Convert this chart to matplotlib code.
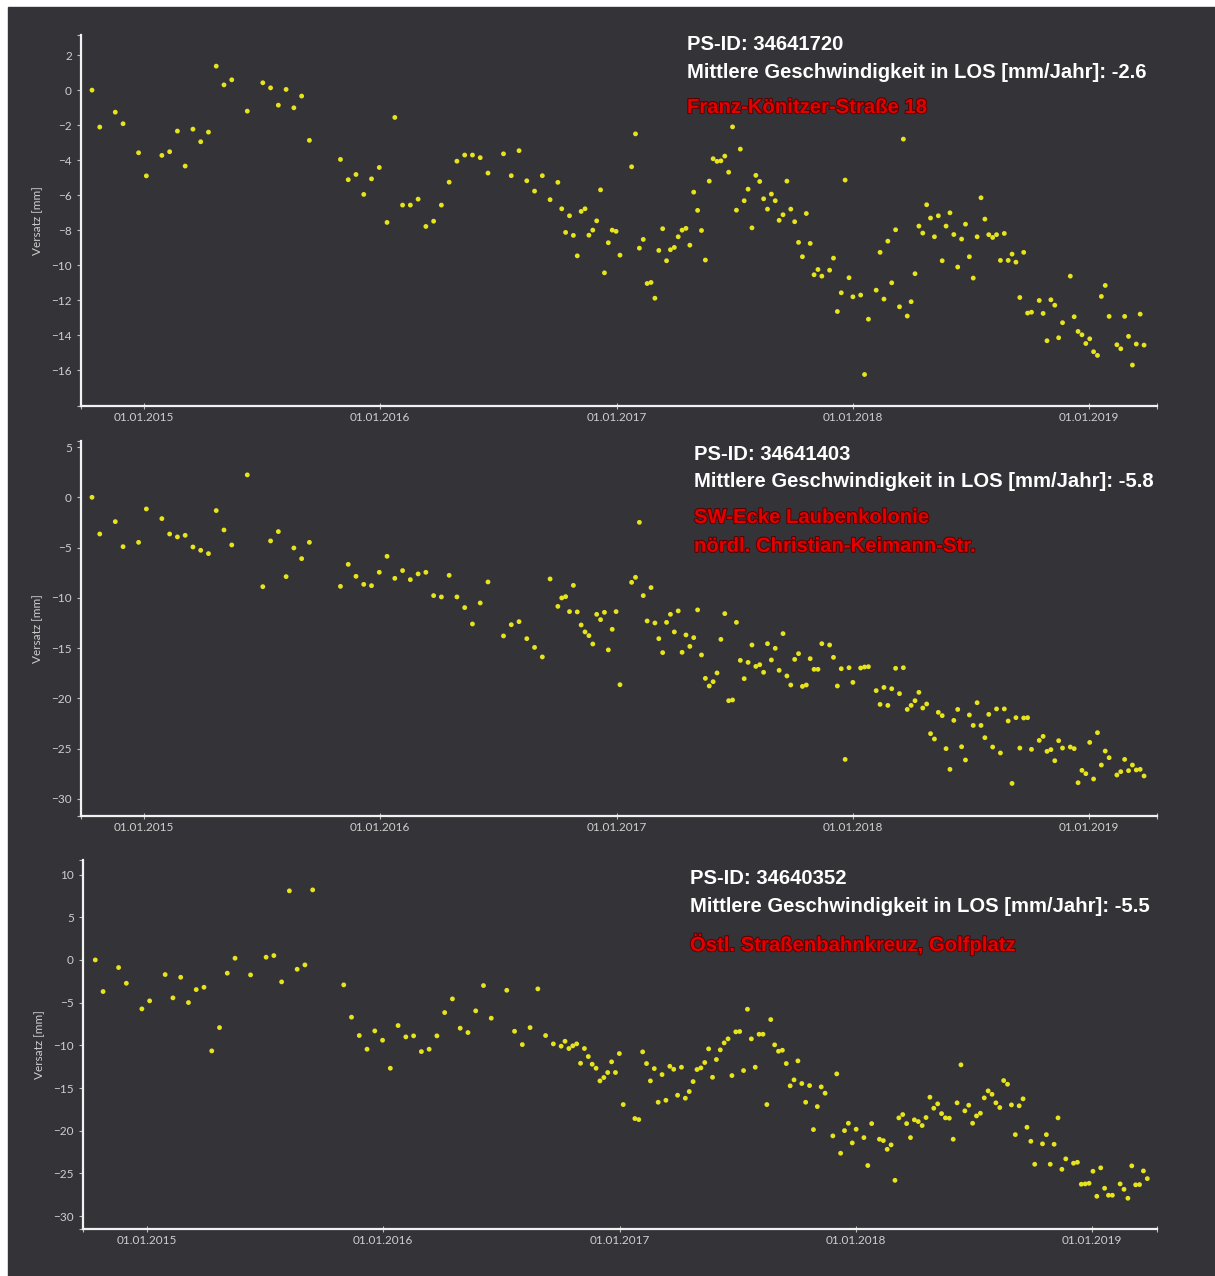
import matplotlib.pyplot as plt
import matplotlib.patheffects as pe
import pandas as pd

# acquisition dates, days after 01.01.2015 (same for all three PS points)
days = [-80, -68, -44, -32, -8, 4, 28, 40, 52, 64, 76, 88, 100, 112, 124, 136,
        160, 184, 196, 208, 220, 232, 244, 256,
        304, 316, 328, 340, 352, 364, 376, 388, 400, 412, 424, 436, 448, 460,
        472, 484, 496, 508, 520, 532,
        556, 568, 580, 592, 604, 616, 628, 640,
        646, 652, 658, 664, 670, 676, 682, 688, 694, 700, 706, 712, 718, 724,
        730, 736,
        754, 760, 766, 772, 778, 784, 790, 796, 802, 808, 814, 820, 826, 832,
        838, 844, 850, 856, 862, 868, 874, 880, 886, 892, 898, 904, 910, 916,
        922, 928, 934, 940, 946, 952, 958, 964, 970, 976, 982, 988, 994, 1000,
        1006, 1012, 1018, 1024, 1030, 1036, 1042, 1048,
        1060, 1066, 1072, 1078, 1084, 1090, 1096,
        1108, 1114, 1120,
        1132, 1138, 1144, 1150, 1156, 1162, 1168, 1174, 1180, 1186, 1192, 1198,
        1204, 1210, 1216, 1222, 1228, 1234, 1240, 1246, 1252, 1258, 1264, 1270,
        1276, 1282, 1288, 1294, 1300, 1306, 1312, 1318, 1324, 1330, 1336, 1342,
        1348, 1354, 1360, 1366, 1372,
        1384, 1390, 1396, 1402, 1408, 1414, 1420,
        1432, 1438, 1444, 1450, 1456, 1462, 1468, 1474, 1480, 1486, 1492,
        1504, 1510, 1516, 1522, 1528, 1534, 1540, 1546]

# Versatz [mm] per PS point
versatz_34641720 = [
    0.0, -2.11, -1.26, -1.92, -3.58, -4.90, -3.73, -3.52, -2.34, -4.34, -2.23, -2.95,
    -2.40, 1.37, 0.30, 0.59, -1.20, 0.42, 0.13, -0.86, 0.04, -1.01, -0.34, -2.87,
    -3.96, -5.12, -4.82, -5.96, -5.07, -4.42, -7.56, -1.56, -6.57, -6.57, -6.23, -7.79,
    -7.49, -6.57, -5.26, -4.06, -3.71, -3.71, -3.86, -4.74,
    -3.64, -4.89, -3.46, -5.18, -5.77, -4.89, -6.26, -5.27,
    -6.78, -8.13, -7.18, -8.30, -9.47, -6.93, -6.78, -8.29, -8.00, -7.47, -5.70, -10.44,
    -8.72, -8.00, -8.07, -9.43,
    -4.38, -2.50, -9.03, -8.53, -11.05, -10.99, -11.89, -9.16, -7.92, -9.75,
    -9.12, -8.99, -8.38, -8.00, -7.90, -8.86, -5.83, -6.87, -8.02, -9.71,
    -5.20, -3.92, -4.07, -4.04, -3.77, -4.69, -2.10, -6.86, -3.37, -6.32,
    -5.66, -7.87, -4.87, -5.22, -6.21, -6.80, -5.94, -6.32, -7.44, -7.12,
    -5.20, -6.80, -7.52, -8.70, -9.52, -7.05, -8.76, -10.55, -10.25, -10.63,
    -10.29, -9.60, -12.65, -11.58, -5.14, -10.72, -11.81,
    -11.71, -16.25, -13.09,
    -11.43, -9.27, -11.94, -8.63, -11.01, -7.98, -12.38, -2.80, -12.91, -12.09,
    -10.49, -7.77, -8.17, -6.55, -7.31, -8.38, -7.18, -9.75, -7.77, -7.01,
    -8.25, -10.11, -8.51, -7.66, -9.52, -10.74, -8.38, -6.15, -7.37, -8.26,
    -8.42, -8.26, -9.73, -8.19, -9.73, -9.37, -9.83, -11.85, -9.27, -12.74, -12.69,
    -12.02, -12.76, -14.32, -11.98, -12.29, -14.15, -13.29,
    -10.63, -12.95, -13.79, -13.98, -14.48, -14.21, -14.95, -15.16, -11.79, -11.16, -12.93,
    -14.55, -14.78, -12.93, -14.07, -15.71, -14.51, -12.80, -14.57]

versatz_34641403 = [
    0.0, -3.65, -2.42, -4.91, -4.48, -1.16, -2.12, -3.65, -3.94, -3.78, -4.94, -5.27,
    -5.60, -1.32, -3.25, -4.74, 2.23, -8.89, -4.34, -3.41, -7.89, -5.04, -6.10, -4.48,
    -8.86, -6.67, -7.86, -8.66, -8.79, -7.46, -5.87, -8.06, -7.29, -8.19, -7.62, -7.46,
    -9.78, -9.91, -7.76, -9.91, -10.97, -12.60, -10.51, -8.42,
    -13.79, -12.67, -12.37, -14.06, -14.93, -15.88, -8.12, -10.85,
    -10.01, -9.88, -11.37, -8.76, -11.40, -12.70, -13.39, -13.76, -14.59, -11.64,
    -12.17, -11.44, -15.18, -13.13, -11.37, -18.64,
    -8.46, -7.96, -2.49, -9.78, -12.30, -8.98, -12.50, -14.06, -15.45, -12.44,
    -11.64, -13.39, -11.30, -15.42, -13.69, -14.83, -13.96, -11.20, -15.68, -18.01,
    -18.77, -18.34, -17.47, -14.13, -11.57, -20.23, -20.16, -12.44, -16.22, -18.04,
    -16.42, -14.69, -16.82, -16.65, -17.41, -14.56, -16.18, -15.02, -17.21, -13.56,
    -17.77, -18.67, -16.12, -15.55, -18.81, -18.67, -16.05, -17.11, -17.11, -14.56,
    -14.69, -15.92, -18.77, -17.05, -26.07, -16.95, -18.41,
    -16.98, -16.88, -16.85,
    -19.23, -20.60, -18.91, -20.70, -19.04, -17.01, -19.53, -16.95, -21.10, -20.70,
    -20.23, -19.40, -20.96, -20.56, -23.51, -24.04, -21.39, -21.72, -25.00, -27.06,
    -22.19, -21.10, -24.81, -26.13, -21.65, -22.69, -20.43, -22.69, -23.91, -21.59,
    -24.84, -21.05, -25.43, -21.05, -22.25, -28.46, -21.92, -24.94, -21.95, -21.92, -25.07,
    -24.18, -23.78, -25.27, -25.10, -26.20, -24.21, -24.94,
    -24.84, -25.00, -28.39, -27.16, -27.49, -24.38, -28.02, -23.41, -26.63, -25.24, -25.90,
    -27.62, -27.29, -26.07, -27.19, -26.63, -27.12, -27.06, -27.72]

versatz_34640352 = [
    0.0, -3.70, -0.89, -2.73, -5.73, -4.79, -1.71, -4.44, -2.03, -4.99, -3.47, -3.20,
    -10.65, -7.92, -1.55, 0.20, -1.75, 0.32, 0.51, -2.57, 8.09, -1.09, -0.58, 8.20,
    -2.92, -6.70, -8.85, -10.45, -8.31, -9.40, -12.68, -7.68, -9.01, -8.89, -10.73, -10.45,
    -8.89, -6.16, -4.56, -7.99, -8.50, -5.96, -3.00, -6.82,
    -3.55, -8.35, -9.91, -7.92, -3.39, -8.85, -9.83, -10.10,
    -9.52, -10.37, -10.06, -9.83, -12.10, -10.37, -11.31, -12.21, -12.68, -14.16,
    -13.77, -13.18, -11.93, -13.18, -10.96, -16.93,
    -18.57, -18.69, -10.76, -12.13, -14.16, -12.72, -16.66, -13.42, -16.43, -12.45,
    -12.80, -15.84, -12.56, -16.19, -15.41, -14.24, -12.83, -12.64, -12.01, -10.41,
    -13.74, -11.66, -10.53, -9.71, -9.24, -13.54, -8.42, -8.38, -12.95, -5.77,
    -9.24, -12.56, -8.70, -8.70, -16.93, -6.98, -9.94, -10.69, -10.57, -12.13,
    -14.74, -14.04, -11.82, -14.47, -16.66, -14.71, -19.86, -17.17, -14.86, -15.60,
    -20.60, -13.34, -22.63, -19.98, -19.12, -21.42, -19.82,
    -20.80, -24.07, -19.16,
    -20.99, -21.15, -22.17, -21.65, -25.80, -18.49, -18.10, -19.16, -20.80, -18.72,
    -18.92, -19.39, -18.45, -16.07, -17.36, -16.85, -17.99, -18.49, -18.53, -20.99,
    -16.73, -12.28, -17.67, -17.01, -19.12, -18.26, -17.95, -16.15, -15.33, -15.73,
    -16.73, -17.28, -14.12, -14.55, -16.97, -20.45, -17.08, -16.26, -19.59, -21.23, -23.92,
    -21.53, -20.45, -23.92, -21.58, -18.49, -24.51, -23.29,
    -23.80, -23.69, -26.26, -26.22, -26.15, -24.74, -27.67, -24.34, -26.73, -27.55, -27.55,
    -26.22, -26.85, -27.90, -24.11, -26.33, -26.30, -24.70, -25.60]

ps_ids = ['34641720', '34641403', '34640352']
speeds = ['-2.6', '-5.8', '-5.5']
locations = ['Franz-Könitzer-Straße 18',
             'SW-Ecke Laubenkolonie\nnördl. Christian-Keimann-Str.',
             'Östl. Straßenbahnkreuz, Golfplatz']
series = [versatz_34641720, versatz_34641403, versatz_34640352]
year_ticks = ['2015-01-01', '2016-01-01', '2017-01-01', '2018-01-01', '2019-01-01']

W, H = 1215, 1276
BG = '#333338'
AXIS = '#f2f2f2'
TICKTXT = '#cfcfcf'

# panel layout in pixels: left, right, top, bottom of the axes
boxes = [(81, 1157, 35, 406), (81, 1157, 441, 816), (83, 1157, 860, 1229)]
ylims = [(-18.05, 3.15), (-31.7, 5.6), (-31.5, 11.7)]
yticks = [range(-16, 3, 2), range(-30, 6, 5), range(-30, 11, 5)]
xlims = [(-97, 1566), (-97, 1566), (-99, 1561)]
# text anchor (x, y of first line) in pixels
text_pos = [(687, 44), (694, 454), (690, 879)]

fig = plt.figure(figsize=(W / 100, H / 100), dpi=100)
fig.patch.set_facecolor('white')
fig.add_artist(plt.Rectangle((8 / W, 0), 1 - 8 / W, 1 - 7 / H,
                             transform=fig.transFigure, color=BG, zorder=0))

base = pd.Timestamp('2015-01-01')
dates = base + pd.to_timedelta(days, unit='D')
tick_dates = pd.to_datetime(year_ticks)

title_font = ['Liberation Sans', 'DejaVu Sans']
TSIZE = 14.6

for i in range(3):
    l, r, t, b = boxes[i]
    ax = fig.add_axes([l / W, 1 - b / H, (r - l) / W, (b - t) / H])
    ax.set_facecolor('none')
    ax.scatter(dates, series[i], s=12, color='#e8e41c', edgecolors='none', zorder=3)

    x0 = base + pd.Timedelta(days=xlims[i][0])
    x1 = base + pd.Timedelta(days=xlims[i][1])
    ax.set_xlim(x0, x1)
    ax.set_ylim(*ylims[i])
    ax.set_xticks(tick_dates)
    ax.set_xticklabels([d.strftime('%d.%m.%Y') for d in tick_dates])
    ax.set_xticks([x0, x1], minor=True)
    ax.set_yticks(list(yticks[i]))
    ax.set_yticks(list(ylims[i]), minor=True)

    for side in ['top', 'right']:
        ax.spines[side].set_visible(False)
    for side in ['left', 'bottom']:
        ax.spines[side].set_color(AXIS)
        ax.spines[side].set_linewidth(1.6)

    ax.tick_params(axis='both', which='both', colors='#bdbdbd', labelcolor=TICKTXT,
                   labelsize=8.5, length=3, width=0.8)
    ax.tick_params(axis='x', which='both', direction='inout', length=5, pad=2)
    for lab in ax.get_xticklabels() + ax.get_yticklabels():
        lab.set_family('Lato')
    ax.set_ylabel('Versatz [mm]', color=TICKTXT, fontsize=8.5, family='Lato', labelpad=6)

    tx, ty = text_pos[i]
    fig.text(tx / W, 1 - ty / H, 'PS-ID: ' + ps_ids[i], color='white', fontsize=TSIZE,
             fontweight='bold', family=title_font, va='center')
    fig.text(tx / W, 1 - (ty + 28) / H,
             'Mittlere Geschwindigkeit in LOS [mm/Jahr]: ' + speeds[i], color='white',
             fontsize=TSIZE, fontweight='bold', family=title_font, va='center')
    fig.text(tx / W, 1 - (ty + 54) / H, locations[i], color='#e50000', fontsize=TSIZE,
             fontweight='bold', family=title_font, va='top', linespacing=1.65,
             path_effects=[pe.withStroke(linewidth=1.5, foreground='#5a0000')])

fig.savefig('out.png', dpi=100, facecolor=fig.get_facecolor())
